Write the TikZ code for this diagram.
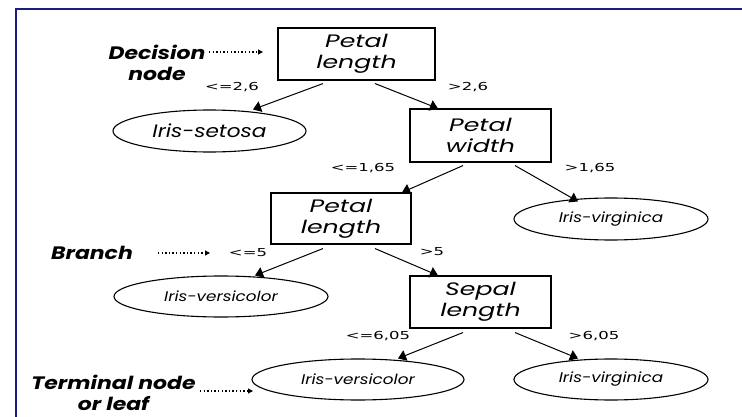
\documentclass[tikz,border=0pt]{standalone}
\usepackage{fontspec}
\setmainfont{Poppins}
\newfontfamily\boxfont[FakeStretch=1.4]{Poppins}
\newfontfamily\leaffont[FakeStretch=1.2]{Poppins}
\newfontfamily\callfont[FakeStretch=1.22]{Poppins}
\newfontfamily\labelfont[FakeStretch=1.5]{DejaVu Sans}
\usetikzlibrary{arrows.meta,shapes.geometric}
\definecolor{framecol}{RGB}{28,28,128}
\tikzset{
  testbox/.style={draw, line width=1.1pt, inner sep=0pt, align=center,
    font=\boxfont\itshape\fontsize{18}{21}\selectfont},
  leafnode/.style={draw, ellipse, line width=1.1pt, inner sep=0pt},
  smallleaf/.style={font=\leaffont\itshape\fontsize{14}{16}\selectfont},
  edgelabel/.style={font=\labelfont\fontsize{11}{13}\selectfont, inner sep=0pt},
  callout/.style={align=center, inner sep=0pt,
    font=\callfont\bfseries\itshape\fontsize{18}{21}\selectfont},
  branch/.style={line width=1pt, -{Triangle[length=8pt,width=11pt]}},
  pointer/.style={line width=1.1pt, dash pattern=on 1.4pt off 2.2pt,
    -{Triangle[length=5pt,width=5pt]}}
}
\begin{document}
\begin{tikzpicture}[x=1pt,y=-1pt]
\useasboundingbox (0,0) rectangle (742,417);
% frame
\draw[framecol, line width=2pt] (16,418) -- (16,9) -- (743,9);

% decision nodes
\node[testbox, minimum width=157pt, minimum height=52pt] (pl1) at (356.5,54) {Petal\\length};
\node[testbox, minimum width=141pt, minimum height=53pt] (pw) at (480.5,135.5) {Petal\\width};
\node[testbox, minimum width=140pt, minimum height=51pt] (pl2) at (341,218.5) {Petal\\length};
\node[testbox, minimum width=141pt, minimum height=52pt] (sl) at (480.5,302) {Sepal\\length};

% leaves
\node[leafnode, minimum width=193pt, minimum height=42pt,
  font=\leaffont\itshape\fontsize{18}{20}\selectfont] (setosa) at (209.5,131) {Iris-setosa};
\node[leafnode, smallleaf, minimum width=194pt, minimum height=42pt] (virg1) at (611,219) {Iris-virginica};
\node[leafnode, smallleaf, minimum width=214pt, minimum height=41pt] (vers1) at (221,296.5) {Iris-versicolor};
\node[leafnode, smallleaf, minimum width=212pt, minimum height=41pt] (vers2) at (358,379.5) {Iris-versicolor};
\node[leafnode, smallleaf, minimum width=194pt, minimum height=41pt] (virg2) at (611,379.5) {Iris-virginica};

% branches
\draw[branch] ([xshift=-33.5pt,yshift=-3pt]pl1.south) -- ([xshift=43.5pt]setosa.north);
\draw[branch] ([xshift=18.5pt,yshift=-3pt]pl1.south) -- ([xshift=-42.5pt]pw.north);
\draw[branch] ([xshift=-17.5pt,yshift=-3pt]pw.south) -- ([xshift=61pt]pl2.north);
\draw[branch] ([xshift=34.5pt,yshift=-3pt]pw.south) -- ([xshift=-33pt,yshift=-4pt]virg1.north);
\draw[branch] ([xshift=-18pt,yshift=-4pt]pl2.south) -- ([xshift=34pt]vers1.north);
\draw[branch] ([xshift=34pt,yshift=-4pt]pl2.south) -- ([xshift=-42.5pt]sl.north);
\draw[branch] ([xshift=-17.5pt,yshift=-4pt]sl.south) -- ([xshift=40pt]vers2.north);
\draw[branch] ([xshift=34.5pt,yshift=-4pt]sl.south) -- ([xshift=-33pt]virg2.north);

% split conditions
\node[edgelabel] (c1) at (232,87) {<=2,6};
\node[edgelabel] (c2) at (468,87) {>2,6};
\node[edgelabel] (c3) at (363,168) {<=1,65};
\node[edgelabel] (c4) at (590,168) {>1,65};
\node[edgelabel] (c5) at (248,253) {<=5};
\node[edgelabel] (c6) at (432,252) {>5};
\node[edgelabel] (c7) at (378,336) {<=6,05};
\node[edgelabel] (c8) at (594,336) {>6,05};

% callouts
\node[callout] (dec) at (157,63) {Decision\\node};
\node[callout] (br) at (92,253) {Branch};
\node[callout] (term) at (113.5,393) {Terminal node\\or leaf};
\coordinate (decA) at (209,52);
\coordinate (decB) at (263,52);
\coordinate (brA) at (158,253);
\coordinate (brB) at (210,253);
\coordinate (termA) at (200,391);
\coordinate (termB) at (253,391);
\draw[pointer] (decA) -- (decB);
\draw[pointer] (brA) -- (brB);
\draw[pointer] (termA) -- (termB);
\end{tikzpicture}
\end{document}
